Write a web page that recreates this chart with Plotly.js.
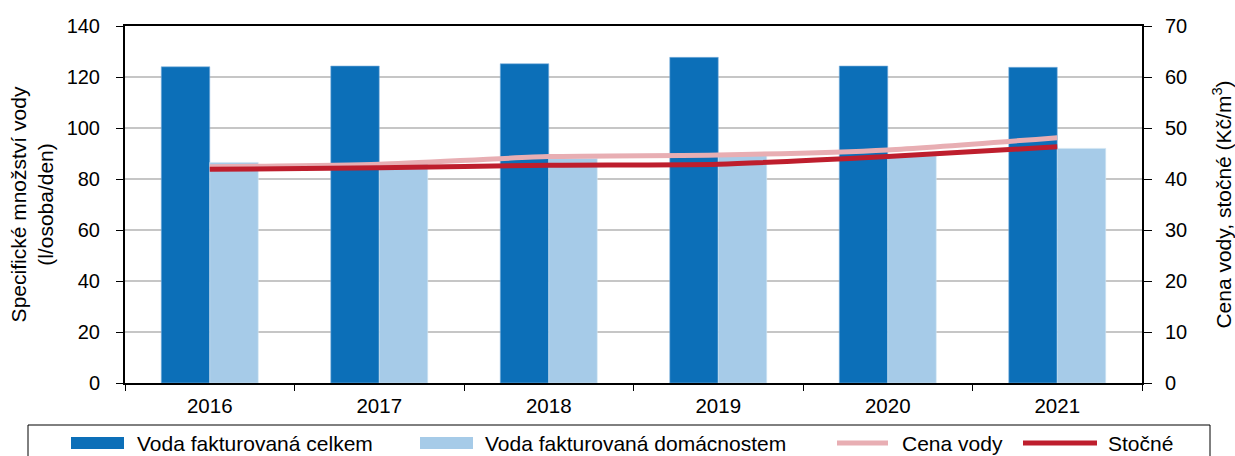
<!DOCTYPE html>
<html>
<head>
<meta charset="utf-8">
<script src="https://cdn.plot.ly/plotly-3.0.1.min.js"></script>
<style>
html,body{margin:0;padding:0;background:#fff;}
#chart{width:1235px;height:456px;}
</style>
</head>
<body>
<div id="chart"></div>
<script>
const years = ['2016', '2017', '2018', '2019', '2020', '2021'];
const vodaCelkem = [124.0, 124.3, 125.2, 127.7, 124.3, 123.8];
const vodaDomacnosti = [86.5, 86.4, 88.0, 89.4, 89.0, 92.0];
const cenaVody = [42.4, 42.9, 44.4, 44.7, 45.7, 48.1];
const stocne = [41.9, 42.2, 42.7, 42.9, 44.4, 46.3];
const seriesNames = ['Voda fakturovaná celkem', 'Voda fakturovaná domácnostem', 'Cena vody', 'Stočné'];
const colors = ['#0C6FB8', '#A6CBE8', '#E8AEB3', '#BE1E2D'];

const FONT = 'Liberation Sans, Arial, Helvetica, sans-serif';

const traces = [
  {type: 'bar', x: years, y: vodaCelkem, name: seriesNames[0],
   marker: {color: colors[0], line: {color: '#7FB2DE', width: 0.6}}},
  {type: 'bar', x: years, y: vodaDomacnosti, name: seriesNames[1],
   marker: {color: colors[1], line: {color: '#D2E5F4', width: 0.6}}},
  {type: 'scatter', mode: 'lines', x: years, y: cenaVody, name: seriesNames[2], yaxis: 'y2',
   line: {color: colors[2], width: 5, shape: 'spline', smoothing: 0.6}},
  {type: 'scatter', mode: 'lines', x: years, y: stocne, name: seriesNames[3], yaxis: 'y2',
   line: {color: colors[3], width: 5, shape: 'spline', smoothing: 0.6}}
];

// plot area in pixels: x 125..1142, y 26..383
const L = 125, R = 1142, T = 26, B = 383;
const px = v => (v - L) / (R - L);
const py = v => (B - v) / (B - T);

const shapes = [
  {type: 'rect', xref: 'paper', yref: 'paper', x0: px(28), x1: px(1210), y0: py(425), y1: py(470),
   line: {color: '#000', width: 1}, fillcolor: 'rgba(0,0,0,0)', layer: 'above'},
  {type: 'rect', xref: 'paper', yref: 'paper', x0: px(71), x1: px(124), y0: py(449), y1: py(437),
   line: {width: 0}, fillcolor: colors[0]},
  {type: 'rect', xref: 'paper', yref: 'paper', x0: px(420), x1: px(473), y0: py(449), y1: py(437),
   line: {width: 0}, fillcolor: colors[1]},
  {type: 'line', xref: 'paper', yref: 'paper', x0: px(837), x1: px(888), y0: py(443), y1: py(443),
   line: {color: colors[2], width: 5}},
  {type: 'line', xref: 'paper', yref: 'paper', x0: px(1023), x1: px(1097), y0: py(443), y1: py(443),
   line: {color: colors[3], width: 5}}
];

const legendTextX = [135, 483, 900, 1106];
const annotations = seriesNames.map((n, i) => ({
  xref: 'paper', yref: 'paper', x: px(legendTextX[i]), y: py(443), xanchor: 'left', yanchor: 'middle',
  text: n, showarrow: false, font: {family: FONT, size: 21, color: '#000'}
}));

const layout = {
  width: 1235, height: 456,
  margin: {l: L, r: 1235 - R, t: T, b: 456 - B, pad: 0},
  paper_bgcolor: '#fff', plot_bgcolor: '#fff',
  font: {family: FONT, color: '#000'},
  showlegend: false,
  barmode: 'group', bargap: 0.428, bargroupgap: 0,
  xaxis: {
    type: 'category', showline: true, linecolor: '#000', linewidth: 2,
    mirror: true, ticks: 'outside', tickcolor: '#000', ticklen: 6, tickwidth: 1,
    tickson: 'boundaries', showgrid: false, tickfont: {family: FONT, size: 20.5, color: '#000'},
    ticklabelstandoff: 3,
    range: [-0.5, 5.5]
  },
  yaxis: {
    range: [0, 140], dtick: 20, showline: true, linecolor: '#000', linewidth: 2,
    ticks: 'outside', tickcolor: '#000', ticklen: 7, tickwidth: 1,
    showgrid: true, gridcolor: '#C6C6C6', gridwidth: 1.5, zeroline: false,
    tickfont: {family: FONT, size: 20, color: '#000'},
    ticklabelstandoff: 12,
    title: {text: 'Specifické množství vody<br>(l/osoba/den)', font: {family: FONT, size: 21, color: '#000'}, standoff: 7}
  },
  yaxis2: {
    overlaying: 'y', side: 'right', range: [0, 70], dtick: 10,
    showline: true, linecolor: '#000', linewidth: 2,
    ticks: 'outside', tickcolor: '#000', ticklen: 8, tickwidth: 1,
    showgrid: false, zeroline: false,
    tickfont: {family: FONT, size: 20, color: '#000'},
    ticklabelstandoff: 9,
    title: {text: 'Cena vody, stočné (Kč/m<sup>3</sup>)', font: {family: FONT, size: 21, color: '#000'}, standoff: 40}
  },
  shapes: shapes,
  annotations: annotations
};

Plotly.newPlot('chart', traces, layout, {staticPlot: true, displayModeBar: false});
</script>
</body>
</html>
